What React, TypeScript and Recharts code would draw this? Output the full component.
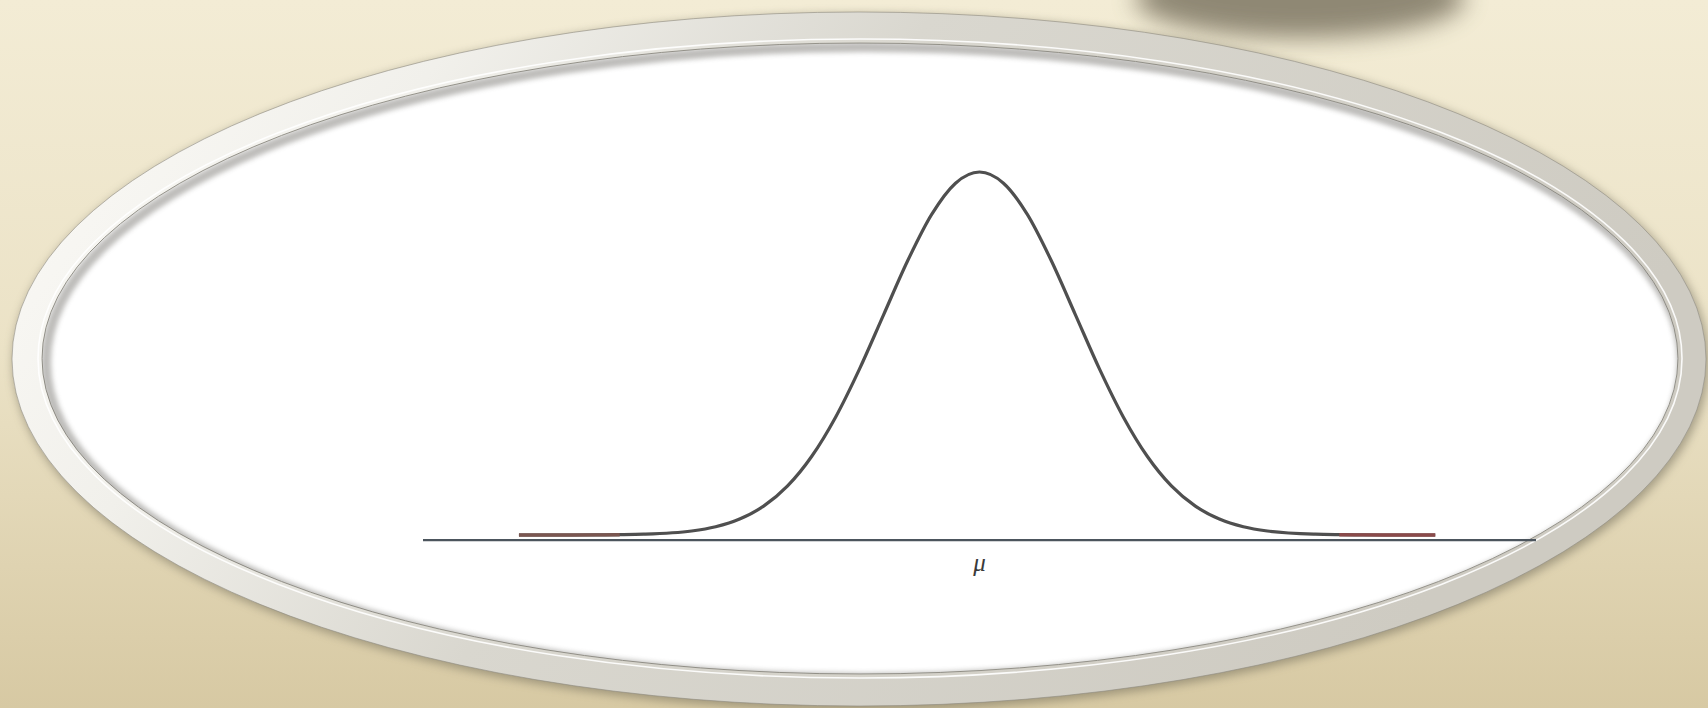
import React from 'react';
import { LineChart, Line, XAxis, YAxis } from 'recharts';

// Standardised positions (in σ units from the mean)
const zPositions = [
  -4.8, -4.5, -4.0, -3.75, -3.5, -3.0, -2.75, -2.5, -2.25, -2.0, -1.75, -1.5, -1.25, -1.0, -0.75, -0.5, -0.25,
  0,
  0.25, 0.5, 0.75, 1.0, 1.25, 1.5, 1.75, 2.0, 2.25, 2.5, 2.75, 3.0, 3.5, 3.75, 4.0, 4.5, 4.75,
];
// Relative curve heights (peak = 1)
const densityHeights = [
  0.0, 0.0, 0.0003, 0.0009, 0.0022, 0.0111, 0.0228, 0.0439, 0.0796, 0.1353, 0.2163, 0.3247, 0.4578, 0.6065, 0.7548, 0.8825, 0.9692,
  1.0,
  0.9692, 0.8825, 0.7548, 0.6065, 0.4578, 0.3247, 0.2163, 0.1353, 0.0796, 0.0439, 0.0228, 0.0111, 0.0022, 0.0009, 0.0003, 0.0, 0.0,
];
const tickPositions = [0];
const tickLabels = ['μ'];

const data = zPositions.map((z, i) => ({
  z,
  density: densityHeights[i],
  leftTail: z <= -3.75 ? densityHeights[i] : null,
  rightTail: z >= 3.75 ? densityHeights[i] : null,
}));

const MuTick = (props: any) => {
  const { x, y, payload } = props;
  const idx = tickPositions.indexOf(payload.value);
  return (
    <text
      x={x}
      y={y + 31}
      textAnchor="middle"
      fontFamily="'Liberation Serif', 'DejaVu Serif', serif"
      fontStyle="italic"
      fontSize={25}
      fill="#3a3a3a"
    >
      {idx >= 0 ? tickLabels[idx] : ''}
    </text>
  );
};

const Frame = () => (
  <svg width={1708} height={708} style={{ position: 'absolute', left: 0, top: 0 }}>
    <defs>
      <linearGradient id="bg" x1="0" y1="0" x2="0" y2="1">
        <stop offset="0" stopColor="#f3ecd5" />
        <stop offset="0.5" stopColor="#ebe2c6" />
        <stop offset="1" stopColor="#d7c9a3" />
      </linearGradient>
      <linearGradient id="ring" x1="0" y1="0" x2="1" y2="0.3">
        <stop offset="0" stopColor="#fdfcf9" />
        <stop offset="0.25" stopColor="#f1f0eb" />
        <stop offset="0.5" stopColor="#d9d7cf" />
        <stop offset="1" stopColor="#cecbc2" />
      </linearGradient>
      <filter id="blurBig" x="-50%" y="-50%" width="200%" height="200%">
        <feGaussianBlur stdDeviation="12" />
      </filter>
      <filter id="blurMid" x="-10%" y="-10%" width="120%" height="120%">
        <feGaussianBlur stdDeviation="5" />
      </filter>
      <filter id="blurSmall" x="-10%" y="-10%" width="120%" height="120%">
        <feGaussianBlur stdDeviation="2.5" />
      </filter>
      <clipPath id="innerClip">
        <ellipse cx={860} cy={358.5} rx={818} ry={315.5} />
      </clipPath>
    </defs>
    <rect x={0} y={0} width={1708} height={708} fill="url(#bg)" />
    {/* shadow blob top right */}
    <ellipse cx={1300} cy={-2} rx={165} ry={40} fill="#857e6a" opacity={0.9} filter="url(#blurBig)" />
    {/* drop shadow of the frame */}
    <ellipse cx={861} cy={362} rx={848} ry={348} fill="#6f6a58" opacity={0.55} filter="url(#blurMid)" />
    {/* ring */}
    <ellipse cx={859} cy={359} rx={847} ry={347} fill="url(#ring)" stroke="#8e8b80" strokeOpacity={0.6} strokeWidth={1} />
    {/* highlight line inside ring */}
    <ellipse cx={860} cy={358.5} rx={822} ry={319.5} fill="none" stroke="#ffffff" strokeWidth={1.6} opacity={0.9} />
    {/* inner white */}
    <ellipse cx={860} cy={358.5} rx={818} ry={315.5} fill="#ffffff" stroke="#9a988f" strokeWidth={1} />
    {/* inner shadow */}
    <g clipPath="url(#innerClip)">
      <ellipse
        cx={864}
        cy={362.5}
        rx={818}
        ry={315.5}
        fill="none"
        stroke="#6e6c66"
        strokeWidth={10}
        opacity={0.45}
        filter="url(#blurSmall)"
      />
    </g>
  </svg>
);

export default function App() {
  return (
    <div style={{ position: 'absolute', left: 0, top: 0, width: 1708, height: 708, overflow: 'hidden' }}>
      <Frame />
      <div style={{ position: 'absolute', left: 0, top: 0 }}>
        <LineChart
          width={1708}
          height={708}
          data={data}
          margin={{ top: 135.7, right: 172, bottom: 137.9, left: 423 }}
        >
          <XAxis
            dataKey="z"
            type="number"
            domain={[-5.8, 5.8]}
            ticks={tickPositions}
            tick={<MuTick />}
            tickLine={false}
            tickSize={0}
            tickMargin={0}
            height={30}
            axisLine={{ stroke: '#4c555d', strokeWidth: 2.2 }}
            allowDataOverflow
          />
          <YAxis hide type="number" domain={[-0.014, 1.1]} allowDataOverflow />
          <Line
            dataKey="density"
            type="monotone"
            stroke="#4f4f4f"
            strokeWidth={3.2}
            dot={false}
            activeDot={false}
            isAnimationActive={false}
          />
          <Line
            dataKey="leftTail"
            type="monotone"
            stroke="#7a5650"
            strokeWidth={3.4}
            dot={false}
            activeDot={false}
            isAnimationActive={false}
          />
          <Line
            dataKey="rightTail"
            type="monotone"
            stroke="#8a4a4a"
            strokeWidth={3.4}
            dot={false}
            activeDot={false}
            isAnimationActive={false}
          />
        </LineChart>
      </div>
    </div>
  );
}
